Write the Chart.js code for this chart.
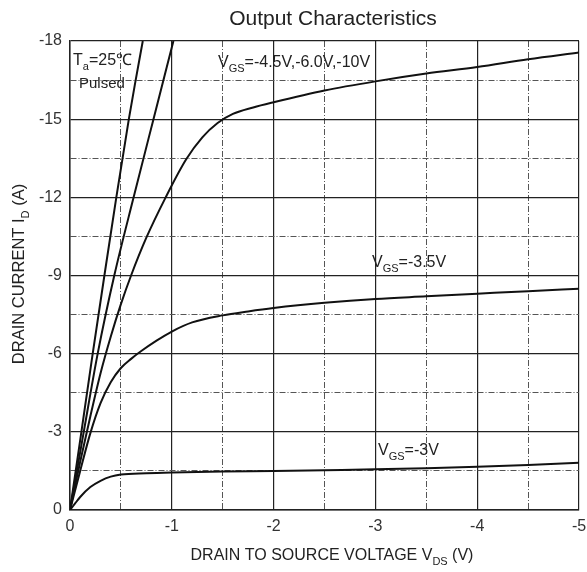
<!DOCTYPE html>
<html><head><meta charset="utf-8">
<style>html,body{margin:0;padding:0;background:#fff}#wrap{width:587px;height:572px;position:relative}</style>
<script src="https://cdn.jsdelivr.net/npm/chart.js@4.4.1/dist/chart.umd.min.js"></script>
</head><body><div id="wrap"><canvas id="c" width="587" height="572"></canvas></div>
<script>
// ---- data ----
const xTickValues = [0, -1, -2, -3, -4, -5];
const xTickLabels = ['0', '-1', '-2', '-3', '-4', '-5'];
const yTickValues = [0, -3, -6, -9, -12, -15, -18];
const yTickLabels = ['0', '-3', '-6', '-9', '-12', '-15', '-18'];

// VGS = -3V
const vds_3 = [0, -0.05, -0.1, -0.2, -0.3, -0.4, -0.5, -0.75, -1, -1.5, -2, -2.5, -3, -3.5, -4, -4.5, -5];
const id_3  = [0, -0.25, -0.5, -0.88, -1.12, -1.28, -1.36, -1.41, -1.44, -1.48, -1.5, -1.53, -1.56, -1.6, -1.66, -1.73, -1.81];
// VGS = -3.5V
const vds_35 = [0, -0.1, -0.2, -0.3, -0.4, -0.5, -0.6, -0.7, -0.85, -1, -1.2, -1.5, -1.75, -2, -2.5, -3, -3.5, -4, -4.5, -5];
const id_35  = [0, -1.5, -2.95, -4.1, -4.9, -5.45, -5.8, -6.1, -6.5, -6.85, -7.2, -7.47, -7.62, -7.75, -7.95, -8.1, -8.2, -8.3, -8.4, -8.49];
// VGS = -10V (steepest)
const vds_10 = [0, -0.112, -0.223, -0.338, -0.455, -0.578, -0.645, -0.715];
const id_10  = [0, -3, -6, -9, -12, -15, -16.5, -18];
// VGS = -6.0V
const vds_6 = [0, -0.135, -0.272, -0.435, -0.625, -0.82, -1.016];
const id_6  = [0, -3, -6, -9, -12, -15, -18];
// VGS = -4.5V
const vds_45 = [0, -0.1, -0.2, -0.3, -0.4, -0.5, -0.6, -0.75, -0.94, -1.14, -1.3, -1.45, -1.6, -1.8, -2, -2.5, -3, -3.5, -4, -4.5, -5];
const id_45  = [0, -1.85, -3.6, -5.25, -6.65, -7.9, -9.0, -10.45, -12.0, -13.45, -14.3, -14.85, -15.2, -15.45, -15.65, -16.1, -16.45, -16.75, -17.0, -17.3, -17.56];

const FONT = "'Liberation Sans', Arial, Helvetica, sans-serif";
const TXT = '#222';

function zip(xs, ys) { return xs.map((x, i) => ({ x: x, y: ys[i] })); }
function near(arr, v) { return arr.findIndex(a => Math.abs(a - v) < 1e-6); }

function ds(xs, ys) {
  return { data: zip(xs, ys), borderColor: '#111', borderWidth: 2, pointRadius: 0,
           fill: false, cubicInterpolationMode: 'monotone' };
}

function drawRich(ctx, x, y, parts, size, align) {
  const sub = Math.round(size * 0.68);
  let w = 0;
  parts.forEach(p => { ctx.font = (p.sub ? sub : size) + 'px ' + FONT; w += ctx.measureText(p.t).width; });
  let cx = align === 'center' ? x - w / 2 : x;
  ctx.textAlign = 'left'; ctx.textBaseline = 'alphabetic';
  parts.forEach(p => {
    ctx.font = (p.sub ? sub : size) + 'px ' + FONT;
    ctx.fillText(p.t, cx, p.sub ? y + size * 0.33 : y);
    cx += ctx.measureText(p.t).width;
  });
}

const textPlugin = {
  id: 'texts',
  afterDraw(chart) {
    const ctx = chart.ctx;
    ctx.save();
    ctx.fillStyle = TXT;
    drawRich(ctx, 333, 25, [{ t: 'Output Characteristics' }], 21, 'center');
    drawRich(ctx, 332, 560, [{ t: 'DRAIN TO SOURCE VOLTAGE V' }, { t: 'DS', sub: true }, { t: ' (V)' }], 16, 'center');
    ctx.save();
    ctx.translate(24, 274);
    ctx.rotate(-Math.PI / 2);
    drawRich(ctx, 0, 0, [{ t: 'DRAIN CURRENT I' }, { t: 'D', sub: true }, { t: ' (A)' }], 16.5, 'center');
    ctx.restore();
    drawRich(ctx, 73, 65, [{ t: 'T' }, { t: 'a', sub: true }, { t: '=25\u2103' }], 16, 'left');
    drawRich(ctx, 79, 88, [{ t: 'Pulsed' }], 15, 'left');
    drawRich(ctx, 218, 66.5, [{ t: 'V' }, { t: 'GS', sub: true }, { t: '=-4.5V,-6.0V,-10V' }], 16, 'left');
    drawRich(ctx, 372, 266.5, [{ t: 'V' }, { t: 'GS', sub: true }, { t: '=-3.5V' }], 16, 'left');
    drawRich(ctx, 378, 455, [{ t: 'V' }, { t: 'GS', sub: true }, { t: '=-3V' }], 16, 'left');
    ctx.restore();
  }
};

function gridOpts(majors) {
  return {
    drawTicks: false,
    color: c => (c.tick && near(majors, c.tick.value) >= 0) ? '#222' : '#555',
    lineWidth: c => (c.tick && near(majors, c.tick.value) >= 0) ? 1.2 : 1
  };
}
function borderOpts(majors) {
  return {
    display: true, color: '#222', width: 1.5,
    dash: c => (c.tick && near(majors, c.tick.value) < 0) ? [6, 2, 1, 2] : []
  };
}

new Chart(document.getElementById('c'), {
  type: 'line',
  data: { datasets: [ds(vds_3, id_3), ds(vds_35, id_35), ds(vds_45, id_45), ds(vds_6, id_6), ds(vds_10, id_10)] },
  options: {
    responsive: false, animation: false, devicePixelRatio: 1,
    layout: { padding: { top: 41, right: 8, left: 0, bottom: 0 } },
    plugins: { legend: { display: false }, tooltip: { enabled: false }, title: { display: false } },
    scales: {
      x: {
        type: 'linear', min: -5, max: 0, reverse: true,
        afterFit: s => { s.height = 62; s.paddingRight = 0; s.paddingLeft = 0; },
        ticks: {
          stepSize: 0.5, autoSkip: false, maxRotation: 0, padding: 7, color: '#333',
          font: { family: FONT, size: 16 },
          callback: v => { const i = near(xTickValues, v); return i >= 0 ? xTickLabels[i] : ''; }
        },
        grid: gridOpts(xTickValues),
        border: borderOpts(xTickValues)
      },
      y: {
        type: 'linear', min: -18, max: 0, reverse: true,
        afterFit: s => { s.width = 70; s.paddingTop = 0; s.paddingBottom = 0; },
        ticks: {
          stepSize: 1.5, autoSkip: false, padding: 8, color: '#333',
          font: { family: FONT, size: 16 },
          callback: v => { const i = near(yTickValues, v); return i >= 0 ? yTickLabels[i] : ''; }
        },
        grid: gridOpts(yTickValues),
        border: borderOpts(yTickValues)
      }
    }
  },
  plugins: [textPlugin]
});
</script></body></html>
